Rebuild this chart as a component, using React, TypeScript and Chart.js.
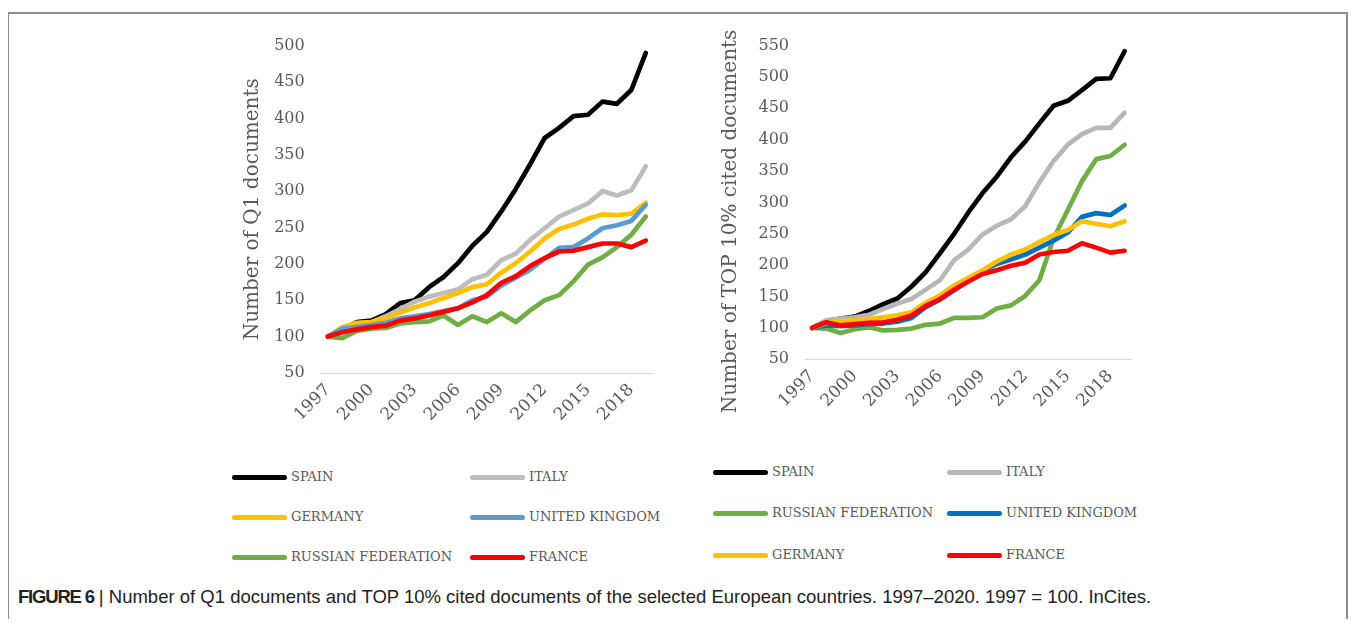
import React, { useEffect, useRef } from "react";
import { Chart, registerables } from "chart.js";

Chart.register(...registerables);

const years = ["1997","1998","1999","2000","2001","2002","2003","2004","2005","2006","2007","2008","2009","2010","2011","2012","2013","2014","2015","2016","2017","2018","2019"];

// Left chart: Number of Q1 documents (1997 = 100)
const q1Spain = [100,110,120,122,131,146,150,168,182,201,225,244,272,303,337,373,387,403,405,423,420,439,490];
const q1Italy = [100,112,118,120,128,138,148,155,160,165,179,185,205,214,233,249,265,274,283,300,294,301,334];
const q1Germany = [100,113,119,120,125,133,140,146,153,160,168,172,188,201,217,235,248,254,262,268,267,269,284];
const q1UK = [100,111,113,116,119,125,128,131,135,139,150,155,170,181,192,207,222,223,235,249,253,259,281];
const q1Russia = [100,98,108,111,112,118,120,121,129,116,128,120,132,120,136,150,157,176,199,209,223,240,265];
const q1France = [100,106,110,113,115,122,125,129,134,139,147,157,174,183,197,208,217,218,223,228,228,223,232];

// Right chart: Number of TOP 10% cited documents (1997 = 100)
const t10Spain = [100,111,115,118,127,138,147,166,189,219,250,284,315,341,372,397,426,454,462,479,497,498,541];
const t10Italy = [100,112,115,117,121,130,139,146,161,176,208,225,249,263,273,294,332,366,392,409,419,419,443];
const t10Russia = [100,99,92,98,101,96,97,99,105,107,116,116,117,131,136,151,176,243,288,334,369,374,392];
const t10UK = [100,104,103,104,106,107,110,116,133,145,160,176,191,202,209,217,228,239,252,277,283,280,295];
const t10Germany = [100,108,110,112,114,117,120,125,140,152,168,180,192,206,217,225,237,248,256,270,266,262,270];
const t10France = [100,109,104,106,108,109,113,120,135,146,161,174,186,192,199,204,217,221,223,235,228,220,223];

const leftSeries = [
  { label: "SPAIN", data: q1Spain, color: "#000000" },
  { label: "ITALY", data: q1Italy, color: "#BDBDBD" },
  { label: "GERMANY", data: q1Germany, color: "#FFC000" },
  { label: "UNITED KINGDOM", data: q1UK, color: "#5B9BD5" },
  { label: "RUSSIAN FEDERATION", data: q1Russia, color: "#70AD47" },
  { label: "FRANCE", data: q1France, color: "#FF0000" },
];

const rightSeries = [
  { label: "SPAIN", data: t10Spain, color: "#000000" },
  { label: "ITALY", data: t10Italy, color: "#B7B7B7" },
  { label: "RUSSIAN FEDERATION", data: t10Russia, color: "#70AD47" },
  { label: "UNITED KINGDOM", data: t10UK, color: "#0070C0" },
  { label: "GERMANY", data: t10Germany, color: "#FFC000" },
  { label: "FRANCE", data: t10France, color: "#FF0000" },
];

const TEXT_GRAY = "#595959";
const SERIF = '"DejaVu Serif", serif';
const OFF = 8; // body margin: page coordinates -> container coordinates

function makeTitlePlugin(text: string, dx: number, dy: number) {
  return {
    id: "yTitle",
    afterDraw(chart: any) {
      const ctx = chart.ctx;
      const area = chart.chartArea;
      ctx.save();
      ctx.translate(area.left - dx, (area.top + area.bottom) / 2 + dy);
      ctx.rotate(-Math.PI / 2);
      ctx.font = "20px " + SERIF;
      ctx.fillStyle = TEXT_GRAY;
      ctx.textAlign = "center";
      ctx.textBaseline = "middle";
      ctx.fillText(text, 0, 0);
      ctx.restore();
    },
  };
}

type ChartProps = {
  series: { label: string; data: number[]; color: string }[];
  yMax: number;
  title: string;
  left: number;
  top: number;
  width: number;
  height: number;
  padding: { left: number; right: number; top: number; bottom: number };
  yWidth: number;
  xHeight: number;
  titleDx: number;
  titleDy: number;
};

function LineChart(p: ChartProps) {
  const ref = useRef<HTMLCanvasElement | null>(null);
  useEffect(() => {
    const n = p.series.length;
    const chart = new Chart(ref.current as HTMLCanvasElement, {
      type: "line",
      data: {
        labels: years,
        datasets: p.series.map((s, i) => ({
          label: s.label,
          data: s.data,
          borderColor: s.color,
          backgroundColor: s.color,
          borderWidth: 4.7,
          pointRadius: 0,
          tension: 0,
          fill: false,
          borderCapStyle: "round",
          borderJoinStyle: "round",
          order: n - 1 - i,
        })),
      },
      options: {
        responsive: false,
        animation: false,
        devicePixelRatio: 1,
        layout: { padding: p.padding },
        plugins: {
          legend: { display: false },
          tooltip: { enabled: false },
        },
        scales: {
          x: {
            type: "category",
            offset: true,
            grid: { display: false, drawTicks: false },
            border: { display: true, color: "#D9D9D9", width: 1 },
            ticks: {
              autoSkip: false,
              maxRotation: 45,
              minRotation: 45,
              padding: 7,
              color: TEXT_GRAY,
              font: { family: SERIF, size: 17 },
              callback: function (_v: any, i: number) {
                return i % 3 === 0 ? years[i] : "";
              },
            },
            afterFit: function (s: any) {
              s.height = p.xHeight;
            },
          },
          y: {
            type: "linear",
            min: 50,
            max: p.yMax,
            grid: { display: false, drawTicks: false },
            border: { display: false },
            ticks: {
              stepSize: 50,
              padding: 16,
              color: TEXT_GRAY,
              font: { family: SERIF, size: 16 },
            },
            afterFit: function (s: any) {
              s.width = p.yWidth;
            },
          },
        },
      },
      plugins: [makeTitlePlugin(p.title, p.titleDx, p.titleDy)],
    } as any);
    return () => chart.destroy();
  }, []);
  return (
    <canvas
      ref={ref}
      width={p.width}
      height={p.height}
      style={{ position: "absolute", left: p.left - OFF, top: p.top - OFF, width: p.width, height: p.height }}
    />
  );
}

type LegendProps = {
  series: { label: string; color: string }[];
  rows: number[];
  cols: number[];
  lineLen: number;
};

function Legend({ series, rows, cols, lineLen }: LegendProps) {
  return (
    <>
      {series.map((s, i) => {
        const r = Math.floor(i / 2);
        const c = i % 2;
        return (
          <div
            key={s.label}
            style={{
              position: "absolute",
              left: cols[c] - OFF,
              top: rows[r] - 10 - OFF,
              height: 20,
              display: "flex",
              alignItems: "center",
              whiteSpace: "nowrap",
            }}
          >
            <span
              style={{
                display: "inline-block",
                width: lineLen,
                height: 5,
                borderRadius: 3,
                background: s.color,
                marginRight: 4,
              }}
            />
            <span style={{ fontFamily: SERIF, fontSize: 13, color: TEXT_GRAY, lineHeight: "20px" }}>{s.label}</span>
          </div>
        );
      })}
    </>
  );
}

export default function App() {
  return (
    <div style={{ position: "relative", width: 1341, height: 611 }}>
      <div
        style={{
          position: "absolute",
          left: 7 - OFF,
          top: 12 - OFF,
          width: 1337,
          height: 606,
          borderTop: "2px solid #8C8C8C",
          borderLeft: "2px solid #8C8C8C",
          borderRight: "2px solid #8C8C8C",
        }}
      />
      <LineChart
        series={leftSeries}
        yMax={500}
        title="Number of Q1 documents"
        left={200}
        top={20}
        width={470}
        height={430}
        padding={{ left: 0, right: 17, top: 22, bottom: 0 }}
        yWidth={120.7}
        xHeight={77}
        titleDx={67.7}
        titleDy={0}
      />
      <LineChart
        series={rightSeries}
        yMax={550}
        title="Number of TOP 10% cited documents"
        left={690}
        top={20}
        width={460}
        height={430}
        padding={{ left: 0, right: 18.3, top: 16.7, bottom: 0 }}
        yWidth={115}
        xHeight={90.7}
        titleDx={74.3}
        titleDy={19}
      />
      <Legend series={leftSeries} rows={[477, 517, 557]} cols={[232, 470]} lineLen={55} />
      <Legend series={rightSeries} rows={[472, 513, 555]} cols={[713, 947]} lineLen={55} />
      <div
        style={{
          position: "absolute",
          left: 18 - OFF,
          top: 586 - OFF,
          fontFamily: '"Liberation Sans", Arial, sans-serif',
          fontSize: 18.5,
          color: "#222",
          whiteSpace: "nowrap",
        }}
      >
        <b style={{ letterSpacing: -1.2 }}>FIGURE 6</b> | Number of Q1 documents and TOP 10% cited documents of the selected European countries. 1997–2020. 1997 = 100. InCites.
      </div>
    </div>
  );
}
